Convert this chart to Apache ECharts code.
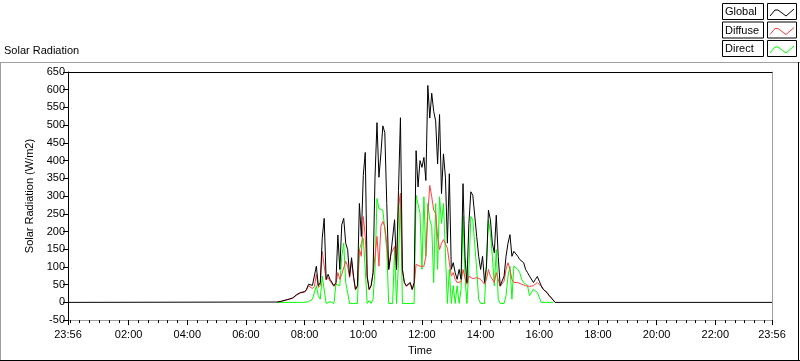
<!DOCTYPE html>
<html><head><meta charset="utf-8">
<script src="https://cdn.jsdelivr.net/npm/echarts@6/dist/echarts.min.js"></script>
<style>html,body{margin:0;padding:0;background:#fff}#c{width:800px;height:361px}</style>
</head><body><div id="c"></div>
<script>
// ---- data ----
const seriesNames = ['Global', 'Diffuse', 'Direct'];
const dayStartMin = 424;   // 07:04, first daytime sample (minutes after midnight)
const stepMin = 4;         // sample spacing in minutes
const axisStartMin = -4;   // 23:56 previous day
const axisEndMin = 1436;   // 23:56
const xLabelMinutes = [-4, 120, 240, 360, 480, 600, 720, 840, 960, 1080, 1200, 1320, 1436];
const yMin = -50, yMax = 650, yStep = 50;

const globalValues = [1,2,3,5,6,7,9,9,13,17, 22,24,28,32,30,37,51,56,48,51,
  102,47,56,181,237,65,79,65,70,47, 56,190,93,219,237,167,149,74,126,74,
  37,47,279,186,358,423,74,37,47,84, 353,507,353,419,498,479,279,93,130,130,
  233,93,316,521,93,56,47,47,56,37, 56,428,326,400,381,409,344,612,520,590,
  539,512,391,530,307,419,353,167,363,93, 112,84,65,93,65,335,130,56,223,312,
  302,298,186,130,93,130,56,102,260,233, 167,140,246,130,47,47,74,130,167,191,
  130,144,144,130,121,116,112,93,84,74, 74,56,65,73,60,47,37,33,28,20,
  14,7,0];
const diffuseValues = [1,2,3,5,6,7,9,9,12,16, 21,23,27,31,29,35,47,42,39,45,
  79,42,48,144,149,63,70,60,63,45, 51,84,65,79,84,116,102,70,116,70,
  35,45,149,130,242,186,70,35,47,84, 130,186,102,214,228,214,167,93,135,130,
  158,93,270,307,93,56,45,47,54,35, 51,107,112,102,98,102,130,251,330,298,
  260,251,186,149,167,177,172,153,112,74, 84,65,56,56,58,93,70,51,74,70,
  67,70,70,65,65,70,51,65,93,74, 70,56,84,65,45,45,60,93,112,93,
  65,56,51,56,56,51,51,47,47,45, 42,47,51,56,51,45,37,32,26,19,
  13,7,2];
const directValues = [0,0,0,0,0,0,0,0,0,0, 0,0,0,0,0,0,2,7,9,11,
  47,19,9,74,74,-3,-3,2,-3,-3, 51,51,47,130,167,56,28,-3,-3,-3,
  -3,-3,149,167,181,93,-3,5,-3,9, 93,293,265,270,260,265,149,-3,-3,-3,
  149,-3,112,307,-3,-3,-3,-3,-3,-3, -3,302,298,251,93,298,130,279,233,214,
  56,279,93,298,223,279,140,-3,93,-3, 47,-3,47,-3,37,242,74,-3,93,242,
  233,228,93,9,-3,-3,-3,-3,233,195, 130,47,149,9,-3,-3,-3,19,74,102,
  9,102,107,93,84,65,56,51,47,19, 28,37,33,28,14,0,0,0,0,0,
  0,0];
const seriesColors = ['#000000', '#ff4040', '#00ff00'];

// ---- build ----
function toPairs(vals) { return vals.map((v, i) => [dayStartMin + stepMin * i, v]); }
const globalData = [[axisStartMin, 0]].concat(toPairs(globalValues), [[axisEndMin, 0]]);
const diffuseData = toPairs(diffuseValues);
const directData = toPairs(directValues);

const minorTicks = [axisStartMin];
for (let m = 0; m <= 1420; m += 20) minorTicks.push(m);
minorTicks.push(axisEndMin);

function pad(n) { return (n < 10 ? '0' : '') + n; }
function fmtTime(v) {
  const m = ((Math.round(v) % 1440) + 1440) % 1440;
  return pad(Math.floor(m / 60)) + ':' + pad(m % 60);
}
const FONT = 'Liberation Sans';
const txt = { color: '#000', fontSize: 11, fontFamily: FONT };

const legendGraphics = [];
seriesNames.forEach((name, k) => {
  const top = 3 + k * 18.5;
  legendGraphics.push({ type: 'rect', shape: { x: 722.5, y: top + 0.5, width: 41, height: 16 },
    style: { fill: '#fff', stroke: '#000', lineWidth: 1 } });
  legendGraphics.push({ type: 'text', x: 725, y: top + 9, style: { text: name, verticalAlign: 'middle', align: 'left', fill: '#000', font: '11px ' + FONT } });
  legendGraphics.push({ type: 'rect', shape: { x: 767.5, y: top + 0.5, width: 29, height: 16 },
    style: { fill: '#fff', stroke: '#000', lineWidth: 1 } });
  legendGraphics.push({ type: 'polyline', shape: { points: [[770, top + 13], [775, top + 7], [778, top + 7], [786, top + 13], [794, top + 6]] },
    style: { stroke: seriesColors[k], lineWidth: 1, fill: null } });
});

const chart = echarts.init(document.getElementById('c'), null, { renderer: 'canvas' });
chart.setOption({
  animation: false,
  backgroundColor: '#fff',
  textStyle: { fontFamily: FONT },
  grid: { left: 68, right: 28, top: 72, bottom: 38, containLabel: false },
  xAxis: [
    { type: 'value', min: axisStartMin, max: axisEndMin, position: 'bottom',
      axisLine: { show: true, onZero: false, lineStyle: { color: '#a0a0a0', width: 1 } },
      splitLine: { show: false },
      axisTick: { show: true, customValues: xLabelMinutes, length: 5, lineStyle: { color: '#000' } },
      axisLabel: Object.assign({ customValues: xLabelMinutes, formatter: fmtTime, margin: 9 }, txt),
      name: 'Time', nameLocation: 'middle', nameGap: 24, nameTextStyle: txt },
    { type: 'value', min: axisStartMin, max: axisEndMin, position: 'bottom',
      axisLine: { show: false, onZero: false }, splitLine: { show: false },
      axisTick: { show: true, customValues: minorTicks, length: 3, lineStyle: { color: '#000' } },
      axisLabel: { show: false } },
    { type: 'value', min: axisStartMin, max: axisEndMin, position: 'top',
      axisLine: { show: true, onZero: false, lineStyle: { color: '#000' } }, splitLine: { show: false },
      axisTick: { show: false }, axisLabel: { show: false } }
  ],
  yAxis: [
    { type: 'value', min: yMin, max: yMax, interval: yStep,
      axisLine: { show: true, onZero: false, lineStyle: { color: '#000' } },
      axisTick: { show: true, length: 5, lineStyle: { color: '#000' } },
      axisLabel: Object.assign({ margin: 3 }, txt),
      splitLine: { show: false },
      name: 'Solar Radiation (W/m2)', nameLocation: 'middle', nameGap: 28, nameRotate: 90, nameTextStyle: txt },
    { type: 'value', min: yMin, max: yMax, position: 'right',
      axisLine: { show: true, onZero: false, lineStyle: { color: '#a0a0a0' } },
      axisTick: { show: false }, axisLabel: { show: false }, splitLine: { show: false } }
  ],
  series: [
    { name: seriesNames[2], type: 'line', data: directData, showSymbol: false, z: 2,
      lineStyle: { color: seriesColors[2], width: 1 } },
    { name: seriesNames[1], type: 'line', data: diffuseData, showSymbol: false, z: 3,
      lineStyle: { color: seriesColors[1], width: 1 } },
    { name: seriesNames[0], type: 'line', data: globalData, showSymbol: false, z: 4,
      lineStyle: { color: seriesColors[0], width: 1 } }
  ],
  graphic: [
    { type: 'line', shape: { x1: 0, y1: 62.5, x2: 800, y2: 62.5 }, style: { stroke: '#a0a0a0', lineWidth: 1 } },
    { type: 'line', shape: { x1: 0.5, y1: 62, x2: 0.5, y2: 361 }, style: { stroke: '#a0a0a0', lineWidth: 1 } },
    { type: 'line', shape: { x1: 0, y1: 360.5, x2: 800, y2: 360.5 }, style: { stroke: '#000', lineWidth: 1 } },
    { type: 'line', shape: { x1: 798.5, y1: 62, x2: 798.5, y2: 361 }, style: { stroke: '#000', lineWidth: 1 } },
    { type: 'text', x: 4, y: 51, style: { text: 'Solar Radiation', verticalAlign: 'middle', fill: '#000', font: '11px ' + FONT } }
  ].concat(legendGraphics)
});
</script></body></html>
